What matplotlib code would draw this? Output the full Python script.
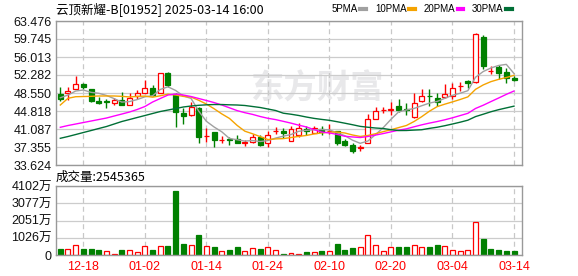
import numpy as np
import pandas as pd
import matplotlib
matplotlib.use("Agg")
import matplotlib.pyplot as plt
from matplotlib.lines import Line2D

# daily candles, 2024-12-13 .. 2025-03-14 (60 trading days)
opens = [48.34, 48.55, 49.44, 50.35, 49.38, 46.95, 46.95, 46.41, 47.10, 46.12,
         47.93, 48.61, 49.59, 48.61, 52.63, 48.44, 44.40, 44.09, 45.50, 39.57,
         40.46, 38.74, 39.01, 39.01, 38.22, 38.49, 39.53, 38.18, 40.63, 40.73,
         38.60, 39.78, 41.02, 40.19, 41.02, 40.57, 40.67, 38.53, 37.77, 37.14,
         38.12, 43.10, 44.96, 45.02, 45.85, 45.15, 43.51, 46.89, 48.03, 47.45,
         47.66, 47.93, 49.94, 51.04, 50.89, 60.10, 53.11, 53.88, 52.96, 51.60]
highs = [49.73, 49.73, 52.14, 50.52, 49.44, 47.78, 47.24, 47.51, 48.76, 48.49,
         49.17, 51.24, 50.27, 52.76, 52.96, 48.49, 45.44, 46.74, 45.58, 41.23,
         40.52, 39.63, 39.49, 39.74, 38.80, 40.05, 39.84, 40.67, 41.50, 41.23,
         41.64, 42.27, 41.71, 41.71, 41.71, 42.06, 40.73, 38.95, 38.12, 37.77,
         44.13, 45.71, 45.58, 46.74, 47.24, 46.54, 48.49, 49.32, 49.32, 48.49,
         50.41, 50.56, 50.89, 51.24, 60.93, 60.57, 54.15, 54.35, 53.67, 52.07]
lows = [46.95, 47.10, 49.32, 49.38, 46.68, 46.27, 45.44, 46.12, 46.00, 46.12,
        47.37, 48.49, 47.93, 48.49, 49.85, 41.56, 42.12, 43.78, 38.24, 38.49,
        37.35, 38.12, 37.77, 38.12, 37.62, 38.12, 37.56, 37.35, 40.05, 39.32,
        38.60, 39.53, 39.84, 40.19, 39.84, 40.05, 37.70, 37.56, 36.17, 36.59,
        38.12, 43.10, 44.40, 43.99, 44.61, 43.99, 43.30, 46.74, 45.85, 45.85,
        47.45, 47.24, 49.03, 49.52, 50.68, 53.46, 52.49, 51.45, 50.68, 51.04]
closes = [47.37, 48.96, 50.41, 49.73, 46.95, 46.41, 46.74, 47.10, 46.12, 47.51,
          48.49, 49.59, 48.20, 52.63, 50.27, 44.67, 43.88, 45.71, 39.43, 39.70,
          38.80, 38.87, 38.80, 38.12, 38.33, 39.36, 37.87, 39.74, 40.73, 40.32,
          41.02, 41.23, 40.77, 41.29, 40.52, 40.73, 38.12, 37.87, 36.59, 37.29,
          43.10, 44.82, 45.08, 45.17, 45.06, 44.98, 46.41, 47.93, 47.90, 46.74,
          48.28, 49.52, 50.06, 50.56, 60.72, 54.15, 53.21, 52.63, 51.72, 51.24]
# volume in 万股
volumes = [358, 358, 596, 358, 358, 298, 238, 60, 298, 298,
           179, 536, 298, 536, 536, 3815, 675, 596, 1192, 536,
           477, 238, 298, 477, 238, 417, 358, 477, 298, 60,
           119, 60, 179, 179, 238, 238, 656, 298, 417, 477,
           1192, 596, 238, 477, 477, 477, 596, 477, 477, 596,
           536, 298, 238, 298, 1947, 954, 358, 298, 238, 254.5365]

# moving average values before the window is full
ma5_head = [47.57, 48.13, 48.96, 49.17]
ma10_head = [46.06, 47.45, 47.78, 47.82, 47.86, 47.93, 47.93, 47.93, 47.86]
ma20_head = [41.44, 41.81, 42.12, 42.43, 42.74, 43.05, 43.36, 43.78, 44.19, 44.61,
             45.13, 45.75, 46.68, 47.41, 48.13, 48.34, 48.13, 47.82, 47.41]
ma30_head = [39.16, 39.53, 39.94, 40.36, 40.77, 41.19, 41.60, 42.12, 42.64, 43.05,
             43.47, 43.88, 44.30, 44.71, 45.02, 45.33, 45.65, 45.85, 46.00, 46.10,
             46.16, 46.16, 46.10, 46.06, 45.96, 45.75, 45.54, 45.23, 44.92]

price_ticks = [33.624, 37.355, 41.087, 44.818, 48.550, 52.282, 56.013, 59.745, 63.476]
vol_ticks = [0, 1026, 2051, 3077, 4102]
date_idx = [3, 11, 19, 27, 35, 43, 51, 59]
date_labels = ["12-18", "01-02", "01-14", "01-24", "02-10", "02-20", "03-04", "03-14"]

title = "云顶新耀-B[01952] 2025-03-14 16:00"
vol_title = "成交量:2545365"

RED = "#ff0000"
GREEN = "#008000"
ma_colors = ["#a0a0a0", "#f5a300", "#ff00ff", "#006f36"]
ma_names = ["5PMA", "10PMA", "20PMA", "30PMA"]

o = np.array(opens); h = np.array(highs); l = np.array(lows); c = np.array(closes)
v = np.array(volumes)
n = len(c)
x = np.arange(n)
up = c >= o
vol_up = np.r_[up[0], c[1:] > c[:-1]]

s = pd.Series(c)
mas = []
for w, head in [(5, ma5_head), (10, ma10_head), (20, ma20_head), (30, ma30_head)]:
    m = s.rolling(w).mean().to_numpy()
    m[:w - 1] = head
    mas.append(m)

cjk = ["Noto Sans CJK SC", "DejaVu Sans"]
lab = ["Liberation Sans", "Noto Sans CJK SC"]

fig = plt.figure(figsize=(5.78, 2.76), dpi=100)
ax = fig.add_axes([56/578, 111/276, 466/578, 144/276])
axv = fig.add_axes([56/578, 21/276, 466/578, 69/276])

for a in (ax, axv):
    a.set_xlim(-0.56, n + 0.04)
    a.set_xticks(date_idx)
    a.grid(axis="x", ls=(0, (4, 3)), color="#c8c8c8", lw=0.9)
    a.grid(axis="y", ls="-", color="#cccccc", lw=0.9)
    a.set_axisbelow(True)
    for sp in a.spines.values():
        sp.set_color("#999999")
        sp.set_linewidth(1.0)
    a.tick_params(length=0, labelsize=9, colors="#111111")

# watermark
ax.text(0.56, 0.53, "东方财富", transform=ax.transAxes, fontsize=24, fontweight="bold",
        family=cjk, color="#e8e8ea", ha="center", va="center", zorder=0)

# candles
cols = np.where(up, RED, GREEN)
ax.vlines(x, l, h, colors=cols, lw=1.0, zorder=2)
ax.bar(x, np.abs(c - o), bottom=np.minimum(o, c), width=0.65,
       color=np.where(up, "white", GREEN), edgecolor=cols, linewidth=0.9, zorder=2)
for m, col in zip(mas, ma_colors):
    ax.plot(x, m, color=col, lw=1.0, zorder=3)

ax.set_ylim(price_ticks[0], price_ticks[-1])
ax.set_yticks(price_ticks)
ax.set_yticklabels(["%.3f" % t for t in price_ticks], family="Liberation Sans")
ax.tick_params(axis="x", labelbottom=False)
ax.tick_params(axis="y", pad=3)

# volume
vcols = np.where(vol_up, RED, GREEN)
axv.bar(x, v, width=0.65, color=np.where(vol_up, "white", GREEN), edgecolor=vcols,
        linewidth=0.9, zorder=2)
axv.set_ylim(0, vol_ticks[-1])
axv.set_yticks(vol_ticks)
axv.set_yticklabels([str(t) if t == 0 else "%d万" % t for t in vol_ticks], family=lab)
axv.set_xticklabels(date_labels, family="Liberation Sans", color=RED)
axv.tick_params(axis="x", pad=4)
axv.tick_params(axis="y", pad=3)

fig.text(56/578, 1 - 9/276, title, fontsize=9, family=cjk, ha="left", va="center")
fig.text(56/578, 1 - 177/276, vol_title, fontsize=9, family=cjk, ha="left", va="center")

handles = [Line2D([], [], color=col, lw=3) for col in ma_colors]
fig.legend(handles, ma_names, loc="center right", bbox_to_anchor=(512/578, 1 - 9/276),
           ncol=4, frameon=False, markerfirst=False, handlelength=0.6, handletextpad=0.25,
           columnspacing=0.9, borderpad=0, borderaxespad=0,
           prop={"family": "Liberation Sans", "size": 7})

fig.savefig("out.png", dpi=100)
